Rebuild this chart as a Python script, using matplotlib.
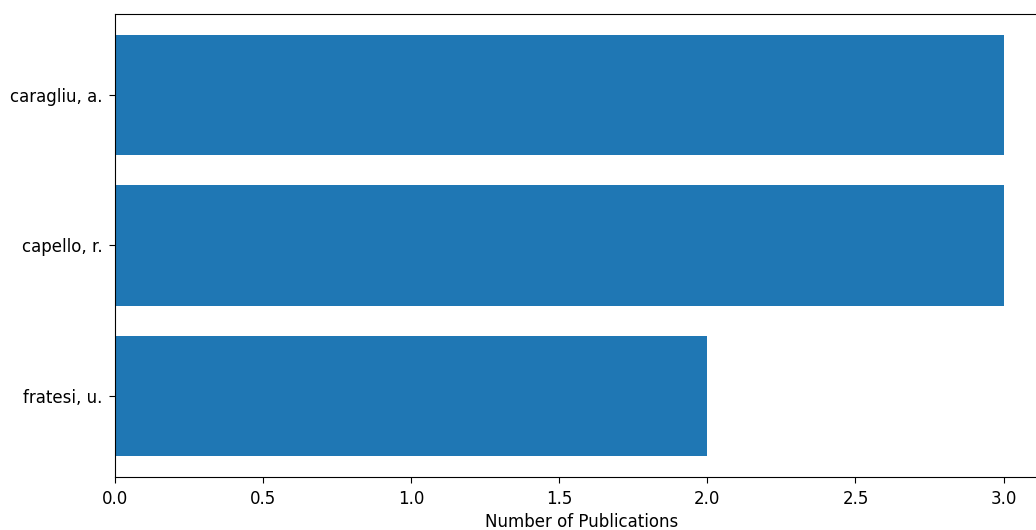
import matplotlib
matplotlib.use("Agg")
import matplotlib.pyplot as plt

# authors and publication counts (bottom to top)
authors = ["fratesi, u.", "capello, r.", "caragliu, a."]
counts = [2, 3, 3]

plt.rcParams['font.size'] = 12
plt.rcParams['xtick.major.size'] = 4.5
plt.rcParams['ytick.major.size'] = 4.5
plt.rcParams['xtick.major.pad'] = 4.5
plt.rcParams['ytick.major.pad'] = 4.5

fig = plt.figure(figsize=(10.36, 5.30), dpi=100)
# axes runs past the right edge, as in the cropped reference
ax = fig.add_axes([0.111, 0.100, 0.9006, 0.8736])
ax.barh(authors, counts, color="#1f77b4")
ax.set_xlabel("Number of Publications")

fig.savefig("out.png", dpi=100)
